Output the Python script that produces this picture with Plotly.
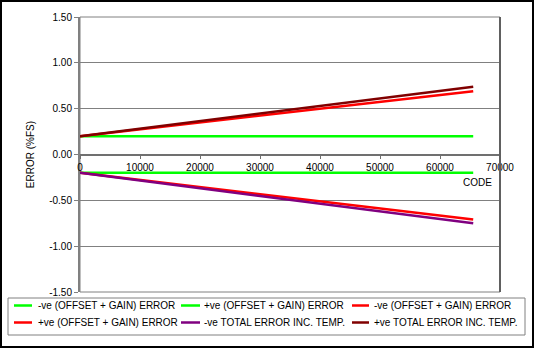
import plotly.graph_objects as go

# Code range and error curves (%FS) at each end of the range
codes = [0, 65535]
neg_offset_gain_green = [-0.20, -0.20]
pos_offset_gain_green = [0.20, 0.20]
neg_offset_gain_red = [-0.20, -0.71]
pos_offset_gain_red = [0.20, 0.69]
neg_total_temp = [-0.20, -0.75]
pos_total_temp = [0.20, 0.74]

series_names = [
    "-ve (OFFSET + GAIN) ERROR",
    "+ve (OFFSET + GAIN) ERROR",
    "-ve (OFFSET + GAIN) ERROR",
    "+ve (OFFSET + GAIN) ERROR",
    "-ve TOTAL ERROR INC. TEMP.",
    "+ve TOTAL ERROR INC. TEMP.",
]
series_values = [
    neg_offset_gain_green,
    pos_offset_gain_green,
    neg_offset_gain_red,
    pos_offset_gain_red,
    neg_total_temp,
    pos_total_temp,
]
series_colors = ["#00FF00", "#00FF00", "#FF0000", "#FF0000", "#800080", "#800000"]

x_ticks = [0, 10000, 20000, 30000, 40000, 50000, 60000, 70000]
x_tick_text = ["0", "10000", "20000", "30000", "40000", "50000", "60000", "70000"]
y_ticks = [-1.5, -1.0, -0.5, 0.0, 0.5, 1.0, 1.5]
y_tick_text = ["-1.50", "-1.00", "-0.50", "0.00", "0.50", "1.00", "1.50"]

FONT = "Liberation Sans, Arial, sans-serif"
FS = 10
W, H = 534, 348
ML, MR, MT, MB = 80, 34, 17, 56
PW, PH = W - ML - MR, H - MT - MB


def px(xpix):
    """Horizontal pixel -> paper fraction."""
    return (xpix - ML) / PW


def py(ypix):
    """Vertical pixel (from top) -> paper fraction."""
    return (MT + PH - ypix) / PH


fig = go.Figure()
for name, vals, col in zip(series_names, series_values, series_colors):
    fig.add_trace(go.Scatter(
        x=codes, y=vals, mode="lines", name=name,
        line=dict(color=col, width=2.5),
    ))

fig.update_layout(
    width=W, height=H,
    margin=dict(l=ML, r=MR, t=MT, b=MB, autoexpand=False),
    paper_bgcolor="white", plot_bgcolor="white",
    font=dict(family=FONT, size=FS, color="black"),
    showlegend=False,
    xaxis=dict(
        range=[0, 70000],
        tickvals=x_ticks, ticktext=x_tick_text,
        showgrid=False, zeroline=False,
        anchor="free", position=0.5,
        showline=True, linecolor="#707070", linewidth=2,
        ticks="outside", ticklen=3, tickcolor="#707070",
        tickfont=dict(family=FONT, size=FS, color="black"),
    ),
    yaxis=dict(
        range=[-1.5, 1.5],
        tickvals=y_ticks, ticktext=y_tick_text,
        showgrid=True, gridcolor="#808080", gridwidth=1,
        zeroline=False,
        showline=True, linecolor="#808080", linewidth=2,
        ticks="outside", ticklen=4, tickcolor="#808080",
        tickfont=dict(family=FONT, size=FS, color="black"),
        title=dict(text="ERROR (%FS)", standoff=13,
                   font=dict(family=FONT, size=FS, color="black")),
    ),
)

# Plot area frame
fig.add_shape(type="rect", xref="paper", yref="paper", x0=0, x1=1, y0=0, y1=1,
              line=dict(color="#808080", width=1), layer="below")
fig.add_shape(type="line", xref="paper", yref="paper", x0=1, x1=1, y0=0, y1=1,
              line=dict(color="#606060", width=2))
# Outer frame around the whole figure
fig.add_shape(type="rect", xref="paper", yref="paper",
              x0=px(1), x1=px(W - 1), y0=py(H - 1), y1=py(1),
              line=dict(color="black", width=2))

fig.add_annotation(x=65535, y=-0.30, xref="x", yref="y", text="CODE",
                   showarrow=False, xanchor="center", yanchor="middle",
                   xshift=4,
                   font=dict(family=FONT, size=FS, color="black"))

# Legend: boxed, two rows of three entries
fig.add_shape(type="rect", xref="paper", yref="paper",
              x0=px(8), x1=px(525), y0=py(335), y1=py(298),
              line=dict(color="#808080", width=1), fillcolor="white")
col_line = [(14, 32), (181, 200), (352, 369)]
col_text = [36, 202, 372]
row_y = [305.5, 322.5]
for i, (name, col) in enumerate(zip(series_names, series_colors)):
    r, c = divmod(i, 3)
    x0, x1 = col_line[c]
    fig.add_shape(type="line", xref="paper", yref="paper",
                  x0=px(x0), x1=px(x1), y0=py(row_y[r]), y1=py(row_y[r]),
                  line=dict(color=col, width=2.5))
    fig.add_annotation(x=px(col_text[c]), y=py(row_y[r]), xref="paper", yref="paper",
                       text=name, showarrow=False, xanchor="left", yanchor="middle",
                       font=dict(family=FONT, size=FS, color="black"))

fig.write_html("out.html")
